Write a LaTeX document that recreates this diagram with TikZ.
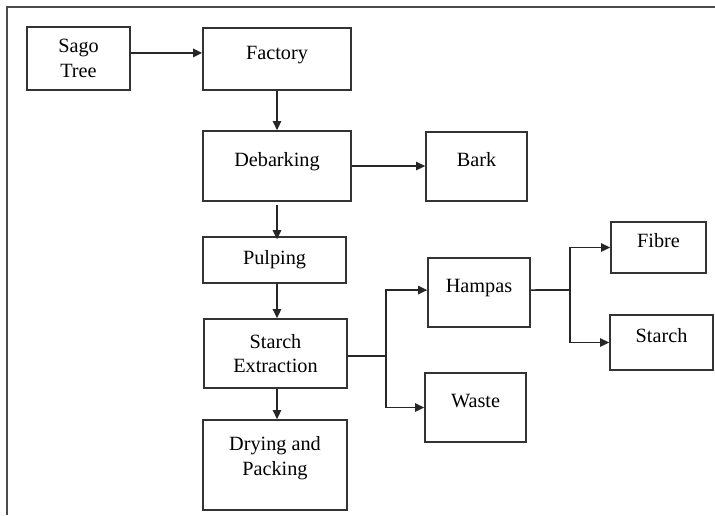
\documentclass[tikz,border=0pt]{standalone}
\usepackage{fontspec}
\setmainfont{Liberation Serif}
\usetikzlibrary{arrows.meta,positioning}

\begin{document}
\begin{tikzpicture}[
  box/.style={draw=black!80, line width=1.2pt, align=center, inner sep=2pt,
    font=\fontsize{14.4}{17.5}\selectfont},
  hi/.style={text height=1.2ex, text depth=1.2ex},
  link/.style={draw=black!85, line width=1.2pt},
  arr/.style={link, -{Triangle[length=6.5pt,width=6pt]}}]
  \useasboundingbox (0,0) rectangle (17.875,-12.875);
  % frame
  \draw[black!70, line width=0.8pt](0.175,-12.875)--(0.175,-0.175)--(17.875,-0.175);
  % process
  \node[box, minimum width=2.575cm, minimum height=1.575cm](sago) at (1.9625,-1.4625){Sago\\Tree};
  \node[box, hi, minimum width=3.7cm, minimum height=1.55cm](fac) at (6.925,-1.475){Factory};
  \node[box, hi, minimum width=3.7cm, minimum height=1.75cm](deb) at (6.925,-4.15){Debarking};
  \node[box, hi, minimum width=2.525cm, minimum height=1.725cm](bark) at (11.9125,-4.1625){Bark};
  \node[box, minimum width=3.575cm, minimum height=1.15cm](pulp) at (6.8625,-6.5){Pulping};
  \node[box, minimum width=3.575cm, minimum height=1.725cm](ext) at (6.8875,-8.8375){Starch\\Extraction};
  \node[box, minimum width=3.6cm, minimum height=2.25cm, text depth=0.45cm](dry) at (6.875,-11.625){Drying and\\Packing};
  % products
  \node[box, hi, minimum width=2.55cm, minimum height=1.725cm](hamp) at (11.975,-7.3125){Hampas};
  \node[box, hi, minimum width=2.525cm, minimum height=1.725cm](waste) at (11.8875,-10.1875){Waste};
  \node[box, hi, minimum width=2.375cm, minimum height=1.275cm](fib) at (16.4625,-6.1875){Fibre};
  \node[box, hi, minimum width=2.575cm, minimum height=1.375cm](sta) at (16.5375,-8.5625){Starch};
  % arrows
  \draw[arr]([yshift=0.14cm]sago.east)--([yshift=0.14cm]sago.east -| fac.west);
  \draw[arr](fac.south)--(fac.south |- deb.north);
  \draw[arr](deb.east)--(deb.east -| bark.west);
  \draw[arr]([yshift=-0.08cm]deb.south)--([yshift=-0.08cm]deb.south |- pulp.north);
  \draw[arr](pulp.south -| deb.south)--(deb.south |- ext.north);
  \draw[arr](ext.south -| deb.south)--(deb.south |- dry.north);
  % branches
  \coordinate(j1) at (9.65,-8.9);
  \coordinate(j2) at (14.25,-7.25);
  \draw[link]([yshift=-0.06cm]ext.east)--(j1);
  \draw[arr](j1)|-([yshift=0.06cm]hamp.west);
  \draw[arr](j1)|-(waste.west);
  \draw[link]([yshift=0.06cm]hamp.east)--(j2);
  \draw[arr](j2)|-(fib.west);
  \draw[arr](j2)|-(sta.west);
\end{tikzpicture}
\end{document}
